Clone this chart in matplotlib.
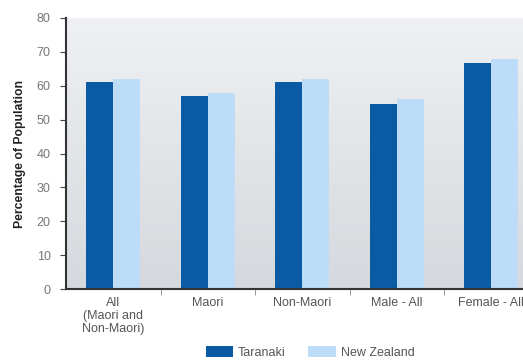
import numpy as np
import matplotlib
matplotlib.use("Agg")
import matplotlib.pyplot as plt
from matplotlib.patches import Patch

plt.rcParams['font.family'] = ['Liberation Sans', 'DejaVu Sans']

# share of population by group, Taranaki vs New Zealand
categories = ['All\n(Maori and\nNon-Maori)', 'Maori', 'Non-Maori', 'Male - All', 'Female - All']
taranaki = [61, 57, 61, 54.5, 66.7]
new_zealand = [62, 58, 62, 56, 68]
series_names = ['Taranaki', 'New Zealand']
yticks = [0, 10, 20, 30, 40, 50, 60, 70, 80]

DARK = '#0b5aa4'
LIGHT = '#bddcf7'

fig = plt.figure(figsize=(5.23, 3.6), dpi=100)
ax = fig.add_axes([0.1262, 0.197, 0.9035, 0.753])

x = np.arange(len(categories))
w = 0.285

# soft vertical gradient behind the bars
grad = np.linspace(0, 1, 256).reshape(-1, 1)
top = np.array([0.937, 0.945, 0.957])
bot = np.array([0.835, 0.847, 0.863])
img = top + (bot - top) * grad[:, :, None]
ax.imshow(img, extent=[-0.5, 4.5, 0, 80], aspect='auto', zorder=0, origin='upper')

ax.bar(x - w / 2, taranaki, w, color=DARK, zorder=2)
ax.bar(x + w / 2, new_zealand, w, color=LIGHT, zorder=2)

ax.set_xlim(-0.5, 4.5)
ax.set_ylim(0, 80)
ax.set_yticks(yticks)
ax.tick_params(axis='y', colors='#444444', labelsize=9, length=4, width=0.8, pad=7)
ax.tick_params(axis='y', labelcolor='#777777')

ax.set_xticks(x)
ax.set_xticklabels(categories, fontsize=9, color='#555555', linespacing=1.1, va='top')
ax.tick_params(axis='x', length=0, pad=6)
ax.set_xticks(np.arange(0.5, 4.5, 1), minor=True)
ax.tick_params(axis='x', which='minor', length=4, width=0.6, color='#888888')

for s in ['top', 'right']:
    ax.spines[s].set_visible(False)
for s in ['left', 'bottom']:
    ax.spines[s].set_color('#333333')
    ax.spines[s].set_linewidth(1.5)

ax.set_ylabel('Percentage of Population', fontsize=8.8, fontweight='bold', color='#222222', labelpad=8)

handles = [Patch(facecolor=DARK, edgecolor='none'), Patch(facecolor=LIGHT, edgecolor='none')]
fig.legend(handles, series_names, loc='center', bbox_to_anchor=(0.593, 0.022), ncol=2, frameon=False,
           fontsize=9, labelcolor='#555555', handlelength=2.2, handleheight=1.0, columnspacing=1.8,
           handletextpad=0.4)

fig.savefig('out.png', dpi=100)
